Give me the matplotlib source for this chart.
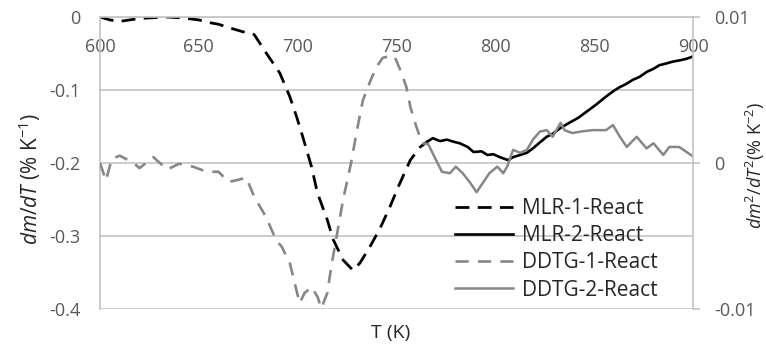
import numpy as np
import matplotlib
matplotlib.use("Agg")
import matplotlib.pyplot as plt

plt.rcParams['font.family'] = ['Open Sans', 'DejaVu Sans']
plt.rcParams['mathtext.fontset'] = 'custom'
plt.rcParams['mathtext.rm'] = 'Open Sans'
plt.rcParams['mathtext.it'] = 'Open Sans:italic'

# --- MLR curves (left axis, % K-1)
t_mlr1 = [600, 605, 610, 615, 620, 627, 634, 640, 644, 650, 654, 660, 667, 672, 678,
          684, 691, 696, 699.5, 703, 707, 710, 715, 718, 723, 728, 731.5, 736.5,
          741.6, 746.7, 751, 757, 762, 766]
mlr1 = [0.0, -0.004, -0.006, -0.004, -0.002, -0.001, 0.0, -0.001, -0.002, -0.004, -0.007,
        -0.010, -0.016, -0.020, -0.024, -0.049, -0.077, -0.109, -0.137, -0.168, -0.205,
        -0.241, -0.278, -0.305, -0.333, -0.347, -0.337, -0.315, -0.290, -0.260, -0.232,
        -0.196, -0.178, -0.170]

t_mlr2 = [766, 768.4, 772, 775.5, 779, 782, 786, 789, 793, 796, 799, 802.3, 806.4, 809,
          812.5, 816, 819, 822, 826, 829, 833, 838, 842, 846, 851, 856, 860, 863, 866,
          869.6, 873, 876.7, 880, 883, 886, 890, 894, 897, 900]
mlr2 = [-0.170, -0.166, -0.170, -0.168, -0.171, -0.173, -0.178, -0.185, -0.184, -0.189,
        -0.188, -0.192, -0.196, -0.192, -0.189, -0.186, -0.180, -0.173, -0.164, -0.160,
        -0.152, -0.144, -0.138, -0.130, -0.120, -0.109, -0.101, -0.096, -0.092, -0.086,
        -0.082, -0.075, -0.071, -0.066, -0.064, -0.061, -0.059, -0.057, -0.054]

# --- DDTG curves (right axis, % K-2)
t_ddtg1 = [600, 603, 606, 610, 617, 620, 627, 634, 640, 647, 654, 660, 665, 670, 674,
           678, 684, 689, 692, 696, 699, 701, 703.5, 707, 710, 712, 715, 717, 720, 723,
           727, 730, 733, 737, 740, 743, 746, 749, 752, 755, 757, 760, 763, 766]
ddtg1 = [0.0, -0.0012, 0.0003, 0.0005, 0.0, -0.00035, 0.0004, -0.00045, -0.00005,
         -0.00025, -0.0006, -0.0006, -0.0013, -0.00115, -0.001, -0.0023, -0.0037,
         -0.00525, -0.00575, -0.00685, -0.0085, -0.0096, -0.0089, -0.0085, -0.00915,
         -0.00995, -0.0089, -0.0071, -0.0048, -0.0025, 0.0, 0.00225, 0.0043, 0.0057,
         0.0066, 0.0072, 0.0073, 0.0073, 0.00635, 0.0052, 0.00385, 0.0025, 0.00135,
         0.0013]

t_ddtg2 = [766, 770, 773, 777, 780, 783.5, 787, 790.5, 794, 797, 801, 804, 806, 809,
           812.5, 816, 819, 822.5, 826, 829, 833, 835, 839, 843, 849, 856, 859.5, 863,
           866.5, 871.5, 876.5, 880, 885, 888, 893, 900]
ddtg2 = [0.0013, 0.0002, -0.0006, -0.0007, -0.00025, -0.0007, -0.0013, -0.002, -0.0013,
         -0.0007, -0.00025, -0.0007, -0.00025, 0.0009, 0.0007, 0.0009, 0.0016, 0.00215,
         0.00225, 0.0018, 0.00275, 0.00225, 0.00205, 0.00215, 0.00225, 0.00225, 0.0026,
         0.0018, 0.0011, 0.0018, 0.001, 0.00135, 0.00055, 0.0011, 0.0011, 0.00045]

x_ticks = [600, 650, 700, 750, 800, 850, 900]
y_ticks = [0, -0.1, -0.2, -0.3, -0.4]
y_tick_labels = ['0', '-0.1', '-0.2', '-0.3', '-0.4']
y2_ticks = [0.01, 0, -0.01]
y2_tick_labels = ['0.01', '0', '-0.01']

grid_c = '#c4c4c4'
tick_c = '#595959'
gray = '#878787'

fig = plt.figure(figsize=(7.66, 3.47), dpi=100)
ax = fig.add_axes([100 / 766, 1 - 309 / 347, 593 / 766, 292 / 347])
ax2 = ax.twinx()

l1, = ax.plot(t_mlr1, mlr1, color='black', lw=2.0, dashes=(5, 3), label='MLR-1-React')
l2, = ax.plot(t_mlr2, mlr2, color='black', lw=1.9, label='MLR-2-React')
l3, = ax2.plot(t_ddtg1, ddtg1, color=gray, lw=1.9, dashes=(5, 3.5), label='DDTG-1-React')
l4, = ax2.plot(t_ddtg2, ddtg2, color=gray, lw=1.8, label='DDTG-2-React')

ax.set_xlim(600, 900)
ax.set_ylim(-0.4, 0)
ax2.set_ylim(-0.01, 0.01)

ax.set_xticks(x_ticks)
ax.xaxis.set_ticks_position('top')
ax.tick_params(axis='x', length=0, pad=-28, labelsize=13, labelcolor=tick_c,
               labeltop=True, labelbottom=False)
ax.set_yticks(y_ticks)
ax.set_yticklabels(y_tick_labels)
ax.tick_params(axis='y', length=0, pad=14, labelsize=13, labelcolor=tick_c)
ax.grid(axis='y', color=grid_c, lw=1.2)
ax.set_axisbelow(True)

ax2.set_yticks(y2_ticks)
ax2.set_yticklabels(y2_tick_labels)
ax2.tick_params(axis='y', length=5, width=1.2, color=grid_c, pad=10,
                labelsize=13, labelcolor=tick_c)

for a in (ax, ax2):
    for s in a.spines.values():
        s.set_visible(False)
ax.spines['left'].set_visible(True)
ax.spines['left'].set_color(grid_c)
ax.spines['left'].set_linewidth(1.2)
ax.spines['top'].set_visible(True)
ax.spines['top'].set_color(grid_c)
ax.spines['top'].set_linewidth(1.2)
ax2.spines['right'].set_visible(True)
ax2.spines['right'].set_color(grid_c)
ax2.spines['right'].set_linewidth(1.2)

fig.text(391 / 766, 1 - 333 / 347, 'T (K)', ha='center', va='center', fontsize=14,
         color='#262626')
fig.text(30 / 766, 1 - 179 / 347, r'$dm/dT$ (% K$^{\mathrm{-1}}$)', rotation=90,
         ha='center', va='center', fontsize=15, color='#262626')
fig.text(755 / 766, 1 - 165 / 347, r'$dm^{2}/dT^{2}$(% K$^{\mathrm{-2}}$)', rotation=90,
         ha='center', va='center', fontsize=13, color='#262626')

ax2.legend(handles=[l1, l2, l3, l4], loc='upper left', frameon=False, fontsize=15,
           bbox_to_anchor=(455 / 766, 1 - 198 / 347), bbox_transform=fig.transFigure,
           handlelength=2.8, handletextpad=0.4, labelspacing=0.3, borderpad=0,
           borderaxespad=0, labelcolor='#262626')

fig.savefig('out.png', dpi=100)
